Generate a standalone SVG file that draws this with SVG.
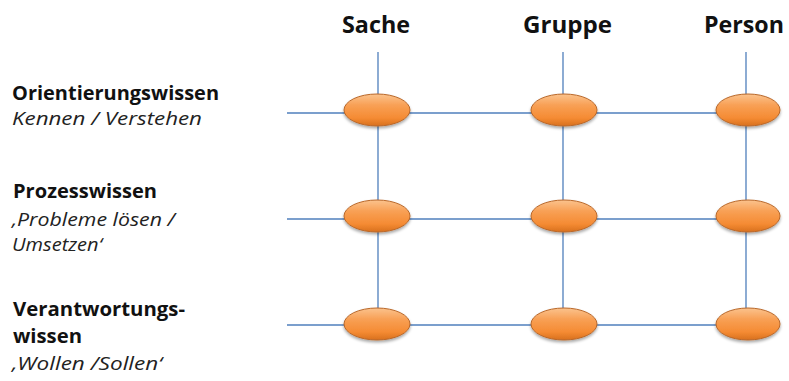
<svg xmlns="http://www.w3.org/2000/svg" width="789" height="381" viewBox="0 0 789 381">
  <defs>
    <linearGradient id="og" x1="0" y1="0" x2="0" y2="1">
      <stop offset="0" stop-color="#fbc38e"/>
      <stop offset="0.35" stop-color="#f8a055"/>
      <stop offset="0.75" stop-color="#f58b33"/>
      <stop offset="1" stop-color="#d8701e"/>
    </linearGradient>
    <filter id="sh" x="-30%" y="-30%" width="160%" height="180%">
      <feGaussianBlur in="SourceAlpha" stdDeviation="1.6"/>
      <feOffset dy="2" result="b"/>
      <feComponentTransfer><feFuncA type="linear" slope="0.35"/></feComponentTransfer>
      <feMerge><feMergeNode/><feMergeNode in="SourceGraphic"/></feMerge>
    </filter>
  </defs>
  <style>
    .ln { stroke: #4f7fbc; stroke-width: 1.3; fill: none; }
    .nd { fill: url(#og); stroke: #b9682a; stroke-width: 1; filter: url(#sh); }
    .hd { font-family: "Open Sans", "Noto Sans", sans-serif; font-weight: bold; font-size: 24px; fill: #111; }
    .lb { font-family: "Open Sans", "Noto Sans", sans-serif; font-weight: bold; font-size: 20px; fill: #111; }
    .it { font-family: "Open Sans", "Noto Sans", sans-serif; font-style: italic; font-size: 19px; fill: #222; }
  </style>
  <rect width="789" height="381" fill="#ffffff"/>

  <g id="headers">
    <text class="hd" x="342" y="33" textLength="68" lengthAdjust="spacingAndGlyphs">Sache</text>
    <text class="hd" x="523" y="33" textLength="89" lengthAdjust="spacingAndGlyphs">Gruppe</text>
    <text class="hd" x="704" y="33" textLength="80" lengthAdjust="spacingAndGlyphs">Person</text>
  </g>

  <g id="row-labels">
    <g id="label-orientierung">
      <text class="lb" x="12" y="100" textLength="207" lengthAdjust="spacingAndGlyphs">Orientierungswissen</text>
      <text class="it" x="12" y="125" textLength="190" lengthAdjust="spacingAndGlyphs">Kennen / Verstehen</text>
    </g>
    <g id="label-prozess">
      <text class="lb" x="13" y="198" textLength="144" lengthAdjust="spacingAndGlyphs">Prozesswissen</text>
      <text class="it" x="12" y="226" textLength="163" lengthAdjust="spacingAndGlyphs">‚Probleme lösen /</text>
      <text class="it" x="12" y="251" textLength="90" lengthAdjust="spacingAndGlyphs">Umsetzen‘</text>
    </g>
    <g id="label-verantwortung">
      <text class="lb" x="13" y="316" textLength="172" lengthAdjust="spacingAndGlyphs">Verantwortungs-</text>
      <text class="lb" x="13" y="343" textLength="69" lengthAdjust="spacingAndGlyphs">wissen</text>
      <text class="it" x="12" y="370" textLength="150" lengthAdjust="spacingAndGlyphs">‚Wollen /Sollen‘</text>
    </g>
  </g>

  <g id="connectors">
    <line class="ln" x1="287" y1="113" x2="746" y2="113"/>
    <line class="ln" x1="287" y1="219" x2="746" y2="219"/>
    <line class="ln" x1="287" y1="325" x2="746" y2="325"/>
    <line class="ln" x1="378" y1="52" x2="378" y2="325"/>
    <line class="ln" x1="563" y1="52" x2="563" y2="325"/>
    <line class="ln" x1="746" y1="52" x2="746" y2="325"/>
  </g>

  <g id="node-r1-sache"><ellipse class="nd" cx="377" cy="110" rx="33" ry="16"/></g>
  <g id="node-r1-gruppe"><ellipse class="nd" cx="564" cy="110" rx="33" ry="16"/></g>
  <g id="node-r1-person"><ellipse class="nd" cx="748" cy="110" rx="32" ry="16"/></g>
  <g id="node-r2-sache"><ellipse class="nd" cx="377" cy="216" rx="33" ry="16"/></g>
  <g id="node-r2-gruppe"><ellipse class="nd" cx="564" cy="216" rx="33" ry="16"/></g>
  <g id="node-r2-person"><ellipse class="nd" cx="748" cy="216" rx="32" ry="16"/></g>
  <g id="node-r3-sache"><ellipse class="nd" cx="377" cy="324" rx="33" ry="16"/></g>
  <g id="node-r3-gruppe"><ellipse class="nd" cx="564" cy="324" rx="33" ry="16"/></g>
  <g id="node-r3-person"><ellipse class="nd" cx="748" cy="324" rx="32" ry="16"/></g>
</svg>
